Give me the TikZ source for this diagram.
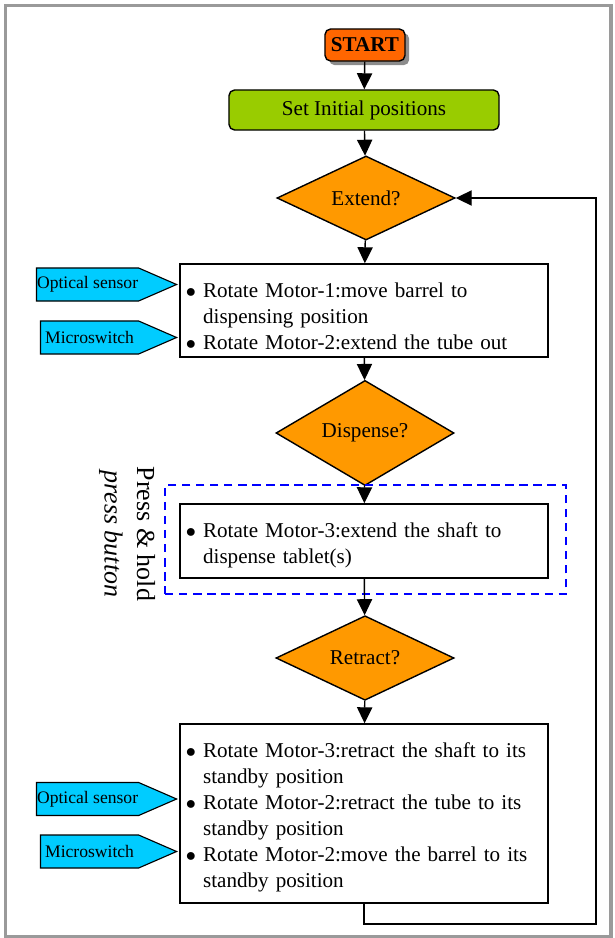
\documentclass[tikz,border=0pt]{standalone}
\usepackage{fontspec}
\setmainfont{Liberation Serif}
\usetikzlibrary{positioning,arrows.meta,shapes.geometric,shapes.symbols,shadows}
\definecolor{startcol}{HTML}{FF6600}
\definecolor{initcol}{HTML}{99CC00}
\definecolor{decicol}{HTML}{FF9900}
\definecolor{tagcol}{HTML}{00CCFF}
\definecolor{framecol}{HTML}{9A9A9A}
\newcommand{\bul}{$\bullet$}
% item list lowered inside its box, box size set by the style
\newcommand{\steplist}[2]{\raisebox{-#1}[0pt][0pt]{\begin{tabular}{@{}l@{\hspace{5pt}}l@{}}#2\end{tabular}}}

\begin{document}
\begin{tikzpicture}[x=0.025cm, y=-0.025cm,
  font=\fontsize{15}{18.5}\selectfont,
  startbox/.style={draw=black, line width=1pt, rounded corners=4pt, fill=startcol,
    minimum width=2.0cm, minimum height=0.8cm, font=\fontsize{15}{18}\selectfont\bfseries,
    drop shadow={shadow xshift=3pt, shadow yshift=-3pt, fill=black!45, opacity=1}},
  initbox/.style={draw=black, line width=1pt, rounded corners=4pt, fill=initcol,
    minimum width=6.75cm, minimum height=1.0cm},
  decision/.style={diamond, draw=black, line width=1pt, fill=decicol, inner sep=0pt,
    minimum width=4.45cm, minimum height=2.075cm},
  action/.style={draw=black, line width=1pt, fill=white, minimum width=9.2cm,
    minimum height=#1, inner xsep=0.15cm, inner ysep=0pt, text width=8.9cm, align=left},
  tag/.style={signal, signal to=east, signal pointer angle=47, draw=black, line width=0.8pt,
    fill=tagcol, minimum width=#1, minimum height=0.825cm, inner xsep=0pt, anchor=east,
    font=\fontsize{12.5}{14}\selectfont},
  holdbox/.style={draw=blue, line width=1pt, dashed, dash pattern=on 6pt off 4pt,
    minimum width=10.025cm, minimum height=2.725cm},
  flow/.style={-{Triangle[length=4mm, width=3.8mm]}, line width=1pt}]
\useasboundingbox (0,0) rectangle (615,938);
% frame
\draw[framecol, line width=2.2pt] (5.5,5.5) rectangle (611,936.5);
% start and init
\node[startbox] (start) at (365,45) {START};
\node[initbox] (init) at (364,110) {Set Initial positions};
\node[decision] (ext) at (366,198) {Extend?};
% extend step
\node[action=2.325cm] (act1) at (364,310.5)
  {\steplist{9.45pt}{
   \bul & Rotate Motor-1:move barrel to\\
        & dispensing position\\
   \bul & Rotate Motor-2:extend the tube out}};
\node[tag=3.5cm] (opt1) at (178,284.5) {Optical sensor};
\node[tag=3.4cm] (mic1) at (178,337.5) {Microswitch};
% dispense step
\node[decision] (disp) at (365,433) {Dispense?};
\node[holdbox] (hold) at (365.5,539.5) {};
\node[action=1.85cm] (act2) at (364,541)
  {\steplist{6.6pt}{
   \bul & Rotate Motor-3:extend the shaft to\\
        & dispense tablet(s)}};
\node[rotate=-90, font=\fontsize{18.5}{20}\selectfont] (hold1) at (146,534) {Press \& hold};
\node[rotate=-90, font=\fontsize{18.5}{20}\selectfont\itshape] (hold2) at (111,534) {press button};
% retract step
\node[decision] (retr) at (365,658) {Retract?};
\node[action=4.475cm] (act3) at (364,813.5)
  {\steplist{6.6pt}{
   \bul & Rotate Motor-3:retract the shaft to its\\
        & standby position\\
   \bul & Rotate Motor-2:retract the tube to its\\
        & standby position\\
   \bul & Rotate Motor-2:move the barrel to its\\
        & standby position}};
\node[tag=3.5cm] (opt2) at (178,799) {Optical sensor};
\node[tag=3.4cm] (mic2) at (178,851.5) {Microswitch};
% arrows
\draw[flow] (start) -- (init);
\draw[flow] (init) -- (ext);
\draw[flow] (ext) -- (act1);
\draw[flow] (act1) -- (disp);
\draw[flow] (disp) -- (act2);
\draw[flow] (act2) -- (retr);
\draw[flow] (retr) -- (act3);
\coordinate (loop) at (596,924);
\draw[flow] (act3.south) |- (loop) |- (ext.east);
\end{tikzpicture}
\end{document}
